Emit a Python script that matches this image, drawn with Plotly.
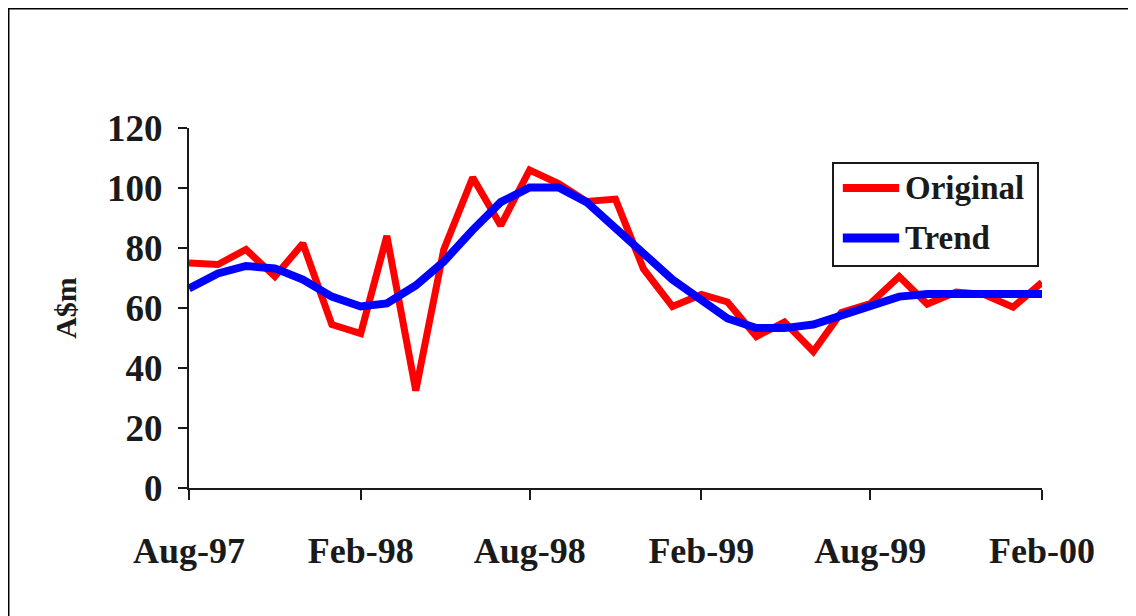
import plotly.graph_objects as go

months = [
    "1997-08-01", "1997-09-01", "1997-10-01", "1997-11-01", "1997-12-01",
    "1998-01-01", "1998-02-01", "1998-03-01", "1998-04-01", "1998-05-01",
    "1998-06-01", "1998-07-01", "1998-08-01", "1998-09-01", "1998-10-01",
    "1998-11-01", "1998-12-01", "1999-01-01", "1999-02-01", "1999-03-01",
    "1999-04-01", "1999-05-01", "1999-06-01", "1999-07-01", "1999-08-01",
    "1999-09-01", "1999-10-01", "1999-11-01", "1999-12-01", "2000-01-01",
    "2000-02-01",
]
original = [75, 74.5, 79.5, 70.5, 81.5, 54.5, 51.5, 84, 32.5, 79.5,
            103.5, 87.5, 106, 101.5, 95.5, 96.3, 73, 60.5, 64.5, 62,
            50.5, 55.3, 45.5, 58.5, 61.5, 70.5, 61.3, 65.3, 64.5, 60.3, 68.5]
trend = [66.5, 71.5, 74, 73.2, 69.5, 63.8, 60.5, 61.5, 67.5, 75.5,
         86, 95.3, 100.2, 100.2, 95.3, 87, 78.2, 69.5, 63, 56.5,
         53.3, 53.3, 54.5, 57.7, 60.8, 63.8, 64.7, 64.7, 64.7, 64.7, 64.7]

yticks = [0, 20, 40, 60, 80, 100, 120]
series_names = ["Original", "Trend"]
series_colors = ["#ff0000", "#0000ff"]
series_widths = [7, 8]

font_family = "Liberation Serif, Times New Roman, serif"
ink = "#1a1a1a"

fig = go.Figure()
for name, ys, col, w in zip(series_names, [original, trend], series_colors, series_widths):
    fig.add_trace(go.Scatter(x=months, y=ys, name=name, mode="lines",
                             line=dict(color=col, width=w), showlegend=False))

fig.update_layout(
    width=1128, height=608,
    margin=dict(l=181, r=94, t=120, b=128),
    paper_bgcolor="white", plot_bgcolor="white",
    font=dict(family=font_family, color=ink, weight="bold"),
    showlegend=False,
    xaxis=dict(
        type="date",
        range=["1997-08-01", "2000-02-01"],
        tick0="1997-08-01", dtick="M6", tickformat="%b-%y",
        showgrid=False, zeroline=False,
        showline=True, linecolor=ink, linewidth=2,
        ticks="outside", ticklen=10, tickwidth=2, tickcolor=ink,
        tickfont=dict(family=font_family, size=36, color=ink, weight="bold"),
        ticklabelstandoff=20,
    ),
    yaxis=dict(
        range=[0, 120], tickvals=yticks,
        showgrid=False, zeroline=False,
        showline=True, linecolor=ink, linewidth=2,
        ticks="outside", ticklen=9, tickwidth=2, tickcolor=ink,
        tickfont=dict(family=font_family, size=37, color=ink, weight="bold"),
        ticklabelstandoff=8,
        title=dict(text="A$m", standoff=22,
                   font=dict(family=font_family, size=30, color=ink, weight="bold")),
    ),
)

# outer frame (top and left edges visible)
fig.add_shape(type="line", xref="paper", yref="paper",
              x0=-0.2122, x1=1.12, y0=1.3333, y1=1.3333,
              line=dict(color="black", width=3))
fig.add_shape(type="line", xref="paper", yref="paper",
              x0=-0.2122, x1=-0.2122, y0=1.3333, y1=-0.36,
              line=dict(color="black", width=3))

# legend box drawn in plot-paper coordinates
fig.add_shape(type="rect", xref="paper", yref="paper",
              x0=0.755, x1=0.9953, y0=0.6167, y1=0.9028,
              line=dict(color=ink, width=2), fillcolor="white", layer="above")
legend_rows = [0.8333, 0.6944]
for name, col, w, yy in zip(series_names, series_colors, series_widths, legend_rows):
    fig.add_shape(type="line", xref="paper", yref="paper",
                  x0=0.7665, x1=0.8325, y0=yy, y1=yy,
                  line=dict(color=col, width=w + 1), layer="above")
    fig.add_annotation(xref="paper", yref="paper", x=0.8370, y=yy,
                       xanchor="left", yanchor="middle", showarrow=False,
                       text=name,
                       font=dict(family=font_family, size=33, color=ink, weight="bold"))

fig.write_html("out.html")
